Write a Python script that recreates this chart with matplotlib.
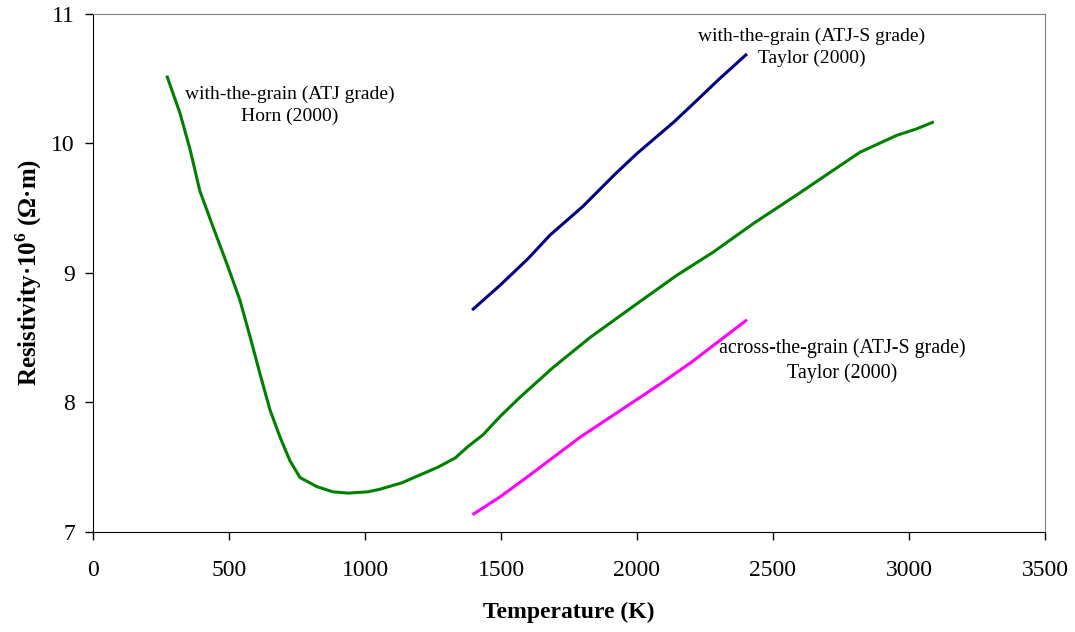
import matplotlib
matplotlib.use("Agg")
import matplotlib.pyplot as plt

plt.rcParams['font.family'] = ['Liberation Serif', 'DejaVu Serif']
plt.rcParams['mathtext.fontset'] = 'custom'
plt.rcParams['mathtext.rm'] = 'Liberation Serif'
plt.rcParams['mathtext.bf'] = 'Liberation Serif:bold'

# Horn (2000), with-the-grain, ATJ grade
horn_T = [273, 320, 357, 393, 442, 492, 540, 577, 614, 651, 688, 724, 761, 823, 882,
          938, 1011, 1055, 1136, 1202, 1268, 1331, 1379, 1434, 1496, 1570, 1692, 1827,
          1999, 2146, 2281, 2428, 2587, 2721, 2820, 2955, 3028, 3086]
horn_R = [10.51, 10.23, 9.95, 9.63, 9.35, 9.07, 8.79, 8.51, 8.22, 7.94, 7.73, 7.55, 7.42,
          7.35, 7.31, 7.30, 7.31, 7.33, 7.38, 7.44, 7.50, 7.57, 7.66, 7.75, 7.89, 8.04,
          8.27, 8.50, 8.76, 8.98, 9.16, 9.38, 9.60, 9.79, 9.93, 10.06, 10.11, 10.16]

# Taylor (2000), with-the-grain, ATJ-S grade
taylor_with_T = [1398, 1500, 1600, 1680, 1800, 1919, 2000, 2134, 2200, 2300, 2400]
taylor_with_R = [8.72, 8.91, 9.11, 9.29, 9.51, 9.76, 9.92, 10.16, 10.29, 10.49, 10.68]

# Taylor (2000), across-the-grain, ATJ-S grade
taylor_across_T = [1400, 1496, 1600, 1790, 1876, 2084, 2200, 2300, 2400]
taylor_across_R = [7.14, 7.27, 7.43, 7.73, 7.85, 8.14, 8.31, 8.47, 8.63]

x_ticks = [0, 500, 1000, 1500, 2000, 2500, 3000, 3500]
y_ticks = [7, 8, 9, 10, 11]

fig = plt.figure(figsize=(10.75, 6.32), dpi=100)
ax = fig.add_axes([93/1075, 1-532/632, (1045-93)/1075, (532-13.5)/632])

ax.plot(horn_T, horn_R, color='#008000', lw=2.2)
ax.plot(taylor_with_T, taylor_with_R, color='#000080', lw=2.2)
ax.plot(taylor_across_T, taylor_across_R, color='#FF00FF', lw=2.2)

ax.set_xlim(0, 3500)
ax.set_ylim(7, 11)
ax.set_xticks(x_ticks)
ax.set_yticks(y_ticks)
ax.tick_params(direction='out', length=6, width=1, labelsize=17, pad=7)
ax.tick_params(axis='x', pad=14)
for s in ['top', 'right']:
    ax.spines[s].set_color('#808080')
for s in ['left', 'bottom']:
    ax.spines[s].set_color('black')

ax.set_xlabel('Temperature (K)', fontsize=17, fontweight='bold', labelpad=15)
ax.set_ylabel(r'Resistivity·10$^{\mathbf{6}}$ (Ω·m)', fontsize=18, fontweight='bold', labelpad=5)

ax.text(724, 10.29, 'with-the-grain (ATJ grade)\nHorn (2000)', fontsize=14,
        ha='center', va='center', multialignment='center', linespacing=1.35)
ax.text(2643, 10.74, 'with-the-grain (ATJ-S grade)\nTaylor (2000)', fontsize=14,
        ha='center', va='center', multialignment='center', linespacing=1.35)
ax.text(2754, 8.32, 'across-the-grain (ATJ-S grade)\nTaylor (2000)', fontsize=14.4,
        ha='center', va='center', multialignment='center', linespacing=1.35)

fig.savefig('out.png', dpi=100)
